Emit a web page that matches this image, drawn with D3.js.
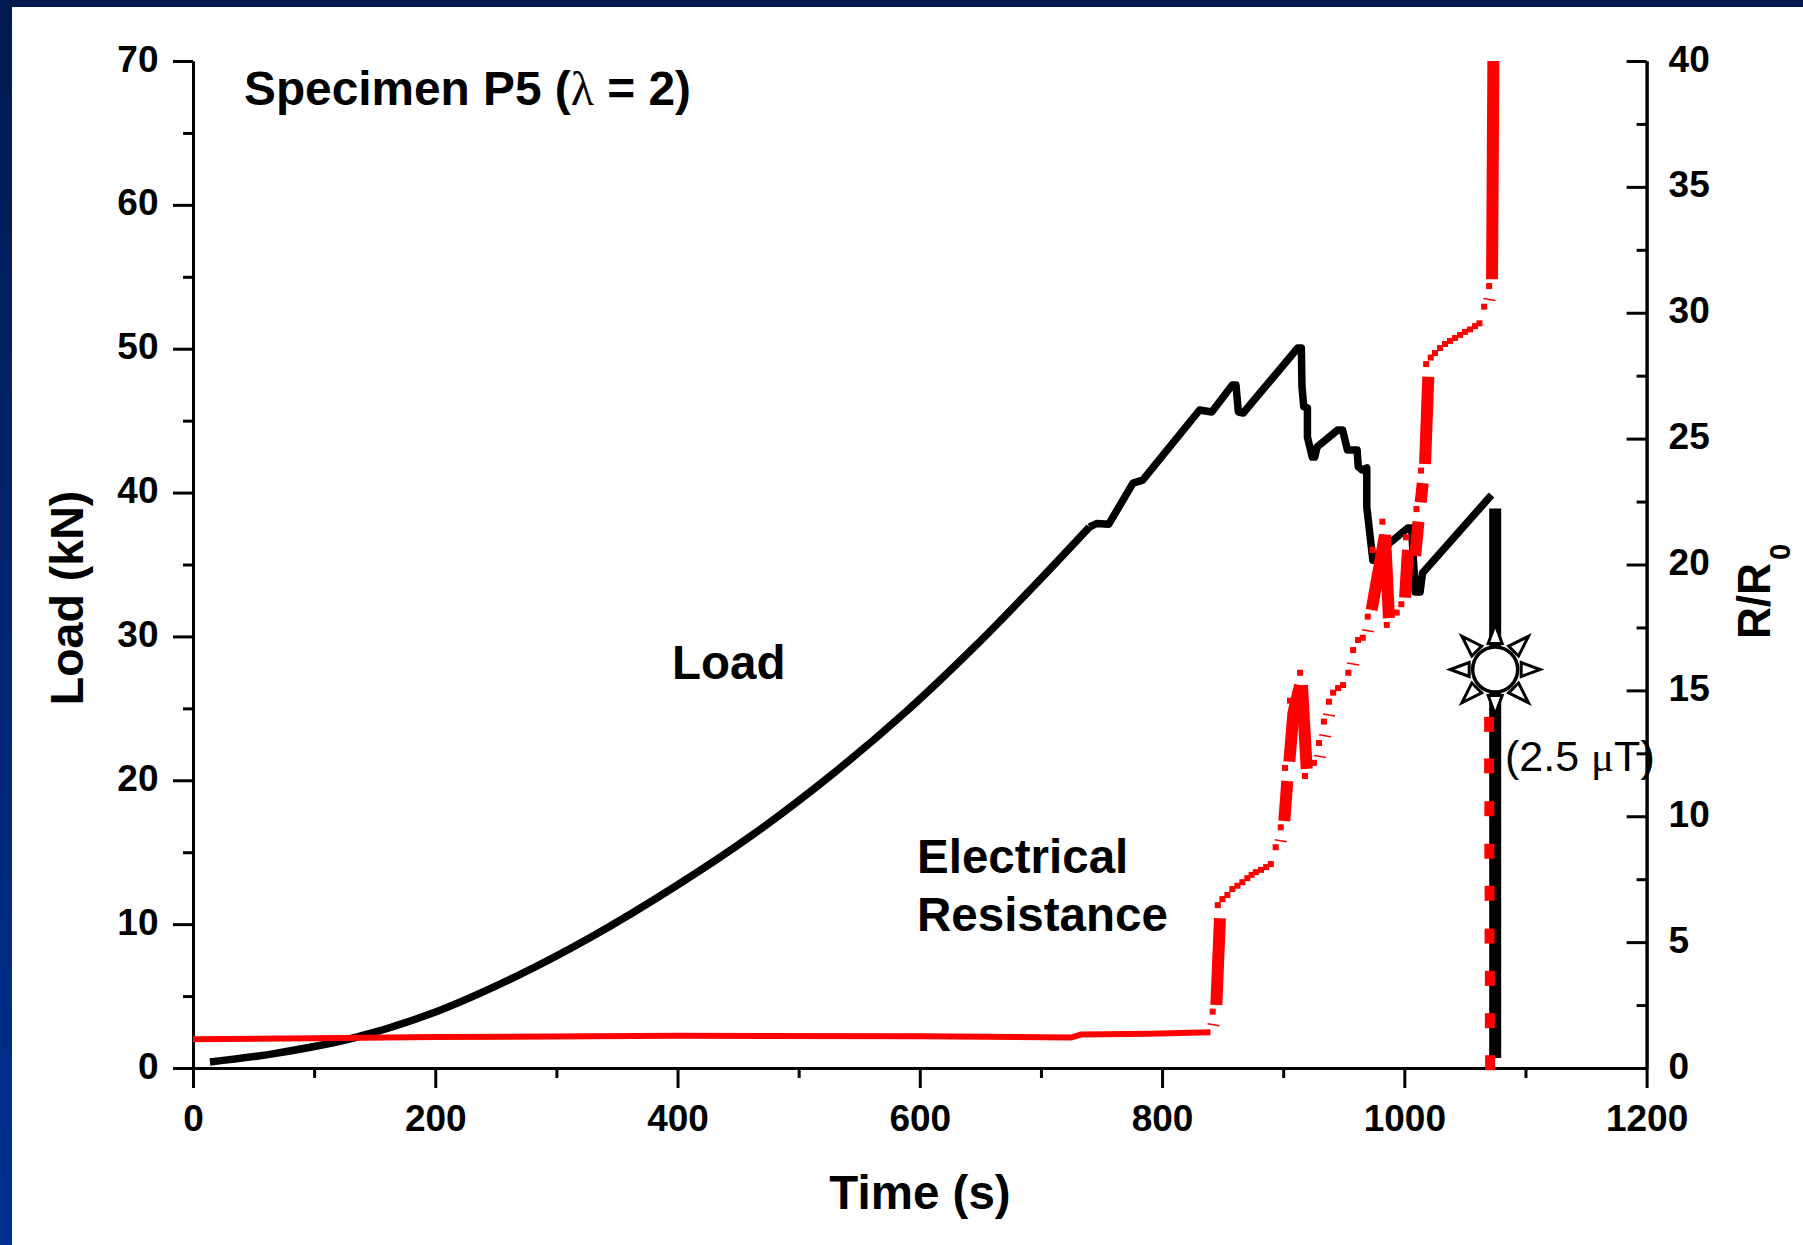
<!DOCTYPE html>
<html>
<head>
<meta charset="utf-8">
<script src="https://cdn.jsdelivr.net/npm/d3@7/dist/d3.min.js"></script>
<style>
html,body{margin:0;padding:0;background:#fff;overflow:hidden}
svg{display:block}
text{font-family:"Liberation Sans",Arial,sans-serif;fill:#000}
</style>
</head>
<body>
<div id="chart"></div>
<script>
// ---------- data ----------
const xMajor = [0,200,400,600,800,1000,1200];
const xMinor = [100,300,500,700,900,1100];
const loadMajor = [0,10,20,30,40,50,60,70];
const loadMinor = [5,15,25,35,45,55,65];
const ratioMajor = [0,5,10,15,20,25,30,35,40];
const ratioMinor = [2.5,7.5,12.5,17.5,22.5,27.5,32.5,37.5];

// Load: smooth rise
const riseTime = [14,67,134,195,266,328,399,461,527,589,646,693,740];
const riseValue = [0.42,1.0,2.12,3.73,6.34,9.07,12.67,16.15,20.37,24.8,29.35,33.4,37.6];
// Load: serrated part up to the last reading before rupture
const serrTime = [740,746,756,776,784,831,841,858,861,863,867,912,915,915.5,917,920,920,924,926,928,945,949,953,961,962,965,969,969,974,988,1003,1006,1009,1013,1015,1072];
const serrValue = [37.6,37.85,37.8,40.66,40.87,45.74,45.6,47.48,47.48,45.6,45.53,50.05,50.05,47.34,45.95,45.88,43.86,42.47,42.47,43.17,44.35,44.35,42.96,42.96,41.78,41.57,41.71,39,35.3,36.5,37.54,37.54,33.09,33.09,34.41,39.83];
// Load drop at rupture
const dropTime = [1075,1075];
const dropValue = [38.9,0.7];

// Electrical resistance: flat part
const flatTime = [0,100,200,400,600,725,733,790,840];
const flatRatio = [1.14,1.18,1.23,1.28,1.26,1.21,1.33,1.36,1.42];
// Electrical resistance: heavy segments
const heavyRuns = [
  {time:[844.8,847.8], ratio:[2.5,5.95]},
  {time:[900.9,903.4], ratio:[9.81,11.4]},
  {time:[905.1,908.4,913.9], ratio:[12.17,14.1,15.21]},
  {time:[915.5,919.4], ratio:[15.21,11.88]},
  {time:[973,984,987.3], ratio:[18.19,21.17,17.87]},
  {time:[1000.6,1003], ratio:[18.68,20.58]},
  {time:[1008.9,1011.7], ratio:[20.34,21.7]},
  {time:[1013.5,1015.2], ratio:[22.47,23.23]},
  {time:[1017.1,1019.8], ratio:[23.99,27.46]},
  {time:[1072.4,1073.5], ratio:[31.33,40]}
];
// Electrical resistance: square readings
const dotTime = [841.8,846,849.8,853.9,858,862.2,866.3,870.4,873.9,877.4,881.7,885.9,889.8,893.8,898,901.5,905.6,913.9,918,925.4,929.6,933.6,937.8,941.2,945.3,949.4,953.8,957.7,961.8,965.7,969.8,973.6,981.9,985.5,993.7,997.5,1001.4,1010,1013.8,1018,1021.8,1025.3,1029.5,1033.6,1037.7,1041.9,1046,1050.1,1054.3,1058.4,1062,1065.9,1070];
const dotRatio = [2.24,6.47,6.71,6.87,7.11,7.24,7.38,7.54,7.67,7.78,7.87,7.98,8.1,8.77,9.56,11.92,14.59,15.7,11.6,12.12,12.91,13.76,14.55,14.91,15.09,15.21,15.7,16.6,17,17.09,17.93,20.58,21.7,17.6,18.09,18.42,21.08,22.2,23.73,27.96,28.22,28.4,28.6,28.76,28.88,29,29.12,29.24,29.34,29.47,29.58,30.24,31.06];
// Electrical resistance: faint hair-line readings
const hairTime = [842.5,898,930.4,934.5,937.8,957.7,970,1070.3];
const hairRatio = [1.72,9.03,12.37,13.2,14.02,16.05,17.37,30.53];
// Electrical resistance: falling dashes at rupture
const fallTime = [1070,1070,1070.2,1070.2,1070.4,1070.4,1070.6,1070.6,1070.8];
const fallRatio = [13.65,12,10.3,8.61,6.94,5.24,3.56,1.88,0.21];

const sunTime = 1075, sunLoad = 27.7;

// ---------- layout ----------
const W = 1803, H = 1245;
const x = d3.scaleLinear().domain([0,1200]).range([193,1646.6]);
const yL = d3.scaleLinear().domain([0,70]).range([1068,61]);
const yR = d3.scaleLinear().domain([0,40]).range([1068,61]);

const svg = d3.select("#chart").append("svg").attr("width",W).attr("height",H).attr("viewBox",`0 0 ${W} ${H}`);
const defs = svg.append("defs");
const grad = defs.append("linearGradient").attr("id","frame").attr("x1",0).attr("y1",0).attr("x2",0).attr("y2",1);
grad.append("stop").attr("offset",0).attr("stop-color","#001a50");
grad.append("stop").attr("offset",1).attr("stop-color","#003090");

svg.append("rect").attr("width",W).attr("height",H).attr("fill","#fff");
svg.append("rect").attr("width",12).attr("height",H).attr("fill","url(#frame)");
svg.append("rect").attr("width",W).attr("height",7).attr("fill","#001a50");

// ---------- axes ----------
const FS = 37;
function styleAxis(g){
  g.select(".domain").attr("stroke","#000").attr("stroke-width",3);
  g.selectAll(".tick line").attr("stroke","#000").attr("stroke-width",3);
  g.selectAll("text").attr("font-size",FS).attr("font-weight","bold").attr("font-family",'"Liberation Sans",Arial,sans-serif').attr("fill","#000");
}
const fmt = d3.format("d");

svg.append("g").attr("transform",`translate(0,${yL(0)})`)
  .call(d3.axisBottom(x).tickValues(xMinor).tickSize(10).tickSizeOuter(0).tickFormat(""))
  .call(styleAxis);
svg.append("g").attr("transform",`translate(0,${yL(0)})`)
  .call(d3.axisBottom(x).tickValues(xMajor).tickSize(20).tickSizeOuter(0).tickPadding(17).tickFormat(fmt))
  .call(styleAxis);

svg.append("g").attr("transform",`translate(${x(0)},0)`)
  .call(d3.axisLeft(yL).tickValues(loadMinor).tickSize(10).tickSizeOuter(0).tickFormat(""))
  .call(styleAxis);
svg.append("g").attr("transform",`translate(${x(0)},0)`)
  .call(d3.axisLeft(yL).tickValues(loadMajor).tickSize(20).tickSizeOuter(0).tickPadding(14.5).tickFormat(fmt))
  .call(styleAxis)
  .call(g=>g.selectAll("text").attr("dy","0.27em"));

svg.append("g").attr("transform",`translate(${x(1200)},0)`)
  .call(d3.axisRight(yR).tickValues(ratioMinor).tickSize(-10).tickSizeOuter(0).tickFormat(""))
  .call(styleAxis);
svg.append("g").attr("transform",`translate(${x(1200)},0)`)
  .call(d3.axisRight(yR).tickValues(ratioMajor).tickSize(-20).tickSizeOuter(0).tickPadding(22).tickFormat(fmt))
  .call(styleAxis)
  .call(g=>g.selectAll("text").attr("dy","0.27em"));

// ---------- series ----------
const lineL = d3.line().x(d=>x(d[0])).y(d=>yL(d[1]));
const smoothL = d3.line().x(d=>x(d[0])).y(d=>yL(d[1])).curve(d3.curveCatmullRom.alpha(0.5));
const lineR = d3.line().x(d=>x(d[0])).y(d=>yR(d[1]));

svg.append("path").datum(d3.zip(riseTime,riseValue)).attr("d",smoothL)
  .attr("fill","none").attr("stroke","#000").attr("stroke-width",7.5);
svg.append("path").datum(d3.zip(serrTime,serrValue)).attr("d",lineL)
  .attr("fill","none").attr("stroke","#000").attr("stroke-width",7.5).attr("stroke-linejoin","round");
svg.append("path").datum(d3.zip(dropTime,dropValue)).attr("d",lineL)
  .attr("fill","none").attr("stroke","#000").attr("stroke-width",12);

// sun marker
const sun = svg.append("g").attr("transform",`translate(${x(sunTime)},${yL(sunLoad)})`);
d3.range(8).forEach(i=>{
  const tip = i%2 ? 47 : 45;
  sun.append("path").attr("d",`M26,-7L${tip},0L26,7Z`)
    .attr("transform",`rotate(${i*45})`)
    .attr("fill","#fff").attr("stroke","#000").attr("stroke-width",3).attr("stroke-linejoin","miter");
});
sun.append("circle").attr("r",22.5).attr("fill","#fff").attr("stroke","#000").attr("stroke-width",3.5);

const red = "#ff0000";
svg.append("path").datum(d3.zip(flatTime,flatRatio)).attr("d",lineR)
  .attr("fill","none").attr("stroke",red).attr("stroke-width",6);
svg.append("g").selectAll("path").data(heavyRuns).join("path")
  .attr("d",d=>lineR(d3.zip(d.time,d.ratio)))
  .attr("fill","none").attr("stroke",red).attr("stroke-width",12).attr("stroke-linejoin","bevel");
svg.append("g").selectAll("rect").data(d3.zip(dotTime,dotRatio)).join("rect")
  .attr("x",d=>x(d[0])-3).attr("y",d=>yR(d[1])-3).attr("width",6).attr("height",6).attr("fill",red);
svg.append("g").selectAll("line").data(d3.zip(hairTime,hairRatio)).join("line")
  .attr("x1",d=>x(d[0])-6).attr("x2",d=>x(d[0])+6)
  .attr("y1",d=>yR(d[1])-1).attr("y2",d=>yR(d[1])+1)
  .attr("stroke",red).attr("stroke-width",1.5);
svg.append("g").selectAll("rect").data(d3.zip(fallTime,fallRatio)).join("rect")
  .attr("x",d=>x(d[0])-5).attr("y",d=>yR(d[1])-7.5).attr("width",10).attr("height",15).attr("fill",red);

// ---------- text ----------
function label(txt,px,py,fs,weight){
  return svg.append("text").attr("x",px).attr("y",py).attr("font-size",fs).attr("font-weight",weight||"bold").text(txt);
}
const title = svg.append("text").attr("x",244).attr("y",105).attr("font-size",47.8).attr("font-weight","bold");
title.append("tspan").text("Specimen P5 (");
title.append("tspan").attr("font-family",'"Liberation Serif",serif').attr("font-weight","normal").text("λ");
title.append("tspan").text(" = 2)");

label("Load",672,679,47.5);
label("Electrical",917,873,47.5);
label("Resistance",917,931,47.5);
label("Time (s)",920,1209,47.5).attr("text-anchor","middle");

svg.append("text").attr("transform","translate(83,598) rotate(-90)").attr("text-anchor","middle")
  .attr("font-size",46.5).attr("font-weight","bold").text("Load (kN)");
svg.append("text").attr("transform","translate(1770,639) rotate(-90)")
  .attr("font-size",47).attr("font-weight","bold").attr("textLength",76).attr("lengthAdjust","spacingAndGlyphs").text("R/R");
svg.append("text").attr("transform","translate(1790,560) rotate(-90)")
  .attr("font-size",29).attr("font-weight","bold").text("0");

const note = svg.append("text").attr("x",1505).attr("y",771).attr("font-size",43).attr("font-weight","normal");
note.append("tspan").text("(2.5 ");
note.append("tspan").attr("font-family",'"Liberation Serif",serif').text("μ");
note.append("tspan").text("T)");
</script>
</body>
</html>
